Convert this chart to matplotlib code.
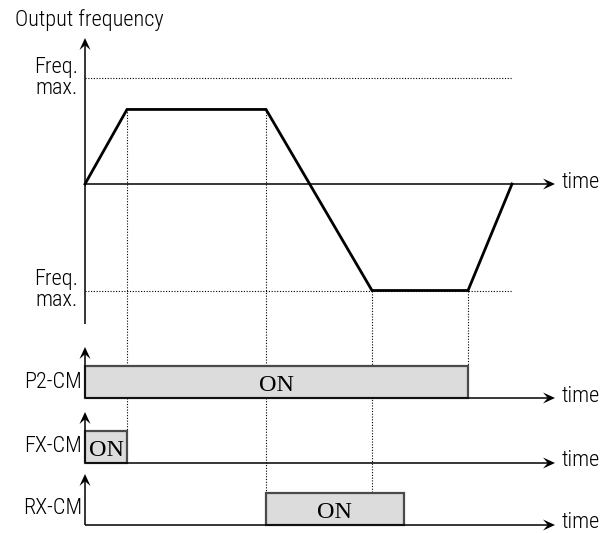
import matplotlib
matplotlib.use('Agg')
import matplotlib.pyplot as plt
import numpy as np

# output frequency profile (time units, freq relative to max)
t_freq = [0, 42, 181, 287, 383, 427]
f_out = [0, 0.7, 0.7, -1.0, -1.0, 0]
f_max = 1.0

# terminal signals: (name, on-start, on-end)
sig_names = ['P2-CM', 'FX-CM', 'RX-CM']
sig_on = [(0, 383), (0, 42), (181, 319)]
sig_base = [398, 463, 525]          # layout rows of the signal baselines

# dotted guide lines: time, from (freq), down to signal row top
guide_t = [42, 181, 287, 383]
guide_f = [0.7, 0.7, -1.0, -1.0]
guide_to = [1, 2, 2, 0]

t_end = 470
f_zero = 184
f_scale = 106.5
bar_h = 32

sans = ['Roboto Condensed', 'Liberation Sans', 'DejaVu Sans']
serif = 'Liberation Serif'
fs = 16
fw = 'light'

fig = plt.figure(figsize=(6.15, 5.33), dpi=100)
ax = fig.add_axes([0, 0, 1, 1])
ax.set_xlim(-85, 530)
ax.set_ylim(533, 0)
ax.axis('off')


def fy(f):
    return f_zero - f_scale * np.asarray(f)


def head(x, y, dx, dy, L=12, W=5.5):
    # stealth style arrow head with tip at x,y pointing along dx,dy
    ux, uy = dx, dy
    px, py = -uy, ux
    xs = [x, x - L*ux + W*px, x - 0.6*L*ux, x - L*ux - W*px]
    ys = [y, y - L*uy + W*py, y - 0.6*L*uy, y - L*uy - W*py]
    ax.fill(xs, ys, color='black', lw=0, zorder=6)


def arrow_line(x0, y0, x1, y1, lw=1.1):
    d = np.hypot(x1 - x0, y1 - y0)
    ux, uy = (x1 - x0) / d, (y1 - y0) / d
    ax.plot([x0, x1 - 6*ux], [y0, y1 - 6*uy], color='black', lw=lw, zorder=5,
            solid_capstyle='butt')
    head(x1, y1, ux, uy)


def label(x, y, s, ha='left'):
    ax.text(x, y, s, fontsize=fs, family=sans, fontweight=fw, ha=ha, va='center',
            linespacing=1.0)


dot = dict(color='black', lw=0.8, ls=(0, (1, 1.5)), zorder=1)

# ---- top chart: output frequency
label(-70, 20, 'Output frequency')
arrow_line(0, 324, 0, 38)
arrow_line(0, f_zero, t_end, f_zero)
label(t_end + 7, f_zero - 2, 'time')

ax.plot([0, t_freq[-1]], [fy(f_max)] * 2, **dot)
ax.plot([0, t_freq[-1]], [fy(-f_max)] * 2, **dot)
for f in (f_max, -f_max):
    label(-7, fy(f), 'Freq.\nmax.', ha='right')

ax.plot(t_freq, fy(f_out), color='black', lw=2.0, zorder=4, solid_joinstyle='miter')

# ---- guide lines
for t, f, k in zip(guide_t, guide_f, guide_to):
    ax.plot([t, t], [fy(f), sig_base[k] - bar_h], **dot)

# ---- signal rows
for name, (t0, t1), yb in zip(sig_names, sig_on, sig_base):
    arrow_line(0, yb, 0, yb - 51)
    arrow_line(0, yb, t_end, yb)
    label(t_end + 7, min(yb - 2, 522), 'time')
    label(-3, yb - bar_h / 2, name, ha='right')
    ax.fill([t0, t1, t1, t0], [yb, yb, yb - bar_h, yb - bar_h], facecolor='#dcdcdc',
            edgecolor='#4a4a4a', lw=1.6, zorder=3)
    ax.text((t0 + t1) / 2, yb - bar_h / 2 + 1, 'ON', fontsize=17.5, family=serif,
            ha='center', va='center_baseline', zorder=4)

fig.savefig('out.png', dpi=100)
